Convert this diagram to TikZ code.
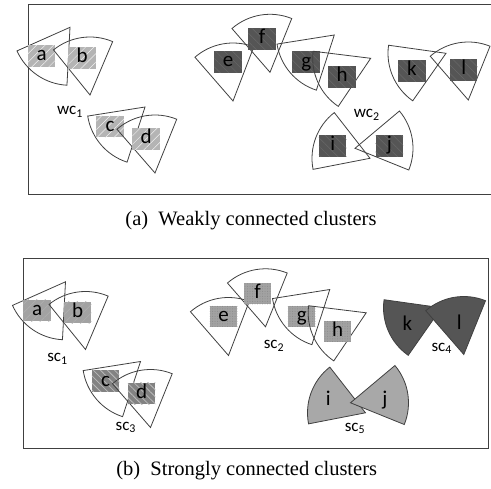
\documentclass[tikz,border=0pt]{standalone}
\usepackage{fontspec}
\setmainfont{Liberation Serif}
\newfontfamily\calfont{Carlito}
\usetikzlibrary{patterns.meta}
\definecolor{edge}{HTML}{404040}
\definecolor{paleg}{HTML}{B4B4B4}
\definecolor{midg}{HTML}{A2A2A2}
\definecolor{stripeg}{HTML}{828282}
\definecolor{darkg}{HTML}{555555}
\definecolor{fang}{HTML}{A8A8A8}

\begin{document}
\begin{tikzpicture}[x=1pt,y=1pt,
  frame/.style={draw=edge, line width=0.9pt},
  sector/.style={draw=edge, line width=0.8pt},
  open/.style={},
  fanlight/.style={fill=fang},
  fandark/.style={fill=darkg},
  lbl/.style={minimum width=27.5pt, minimum height=21.5pt, inner sep=0pt,
    text height=14pt, text depth=4pt, font=\calfont\fontsize{21}{21}\selectfont},
  bare/.style={lbl},
  wlight/.style={lbl, fill=paleg, postaction={pattern={Lines[angle=45,distance=6pt,line width=0.5pt]}, pattern color=white!80!paleg}},
  wdark/.style={lbl, fill=darkg, postaction={pattern={Lines[angle=-45,distance=6pt,line width=0.5pt]}, pattern color=white!12!darkg}},
  sone/.style={lbl, fill=midg, postaction={pattern={Lines[angle=45,distance=6pt,line width=0.5pt]}, pattern color=white!15!midg}},
  sthree/.style={lbl, fill=stripeg, postaction={pattern={Lines[angle=-45,distance=5pt,line width=0.8pt]}, pattern color=white!45!stripeg}},
  stwo/.style={lbl, fill=midg, postaction={pattern={Dots[distance=2.5pt,radius=0.5pt]}, pattern color=black!15!midg}},
  clabel/.style={font=\calfont\fontsize{17}{17}\selectfont, inner sep=0pt},
  caption/.style={font=\fontsize{20.5}{21}\selectfont, inner sep=0pt}]
\useasboundingbox (0,0) rectangle (491,-489);

\draw[frame] (28,-4) rectangle (494,-194);
\foreach \n/\ax/\ay/\s/\e/\bx/\by/\bs in {
    a/70/27.3/204/267/41.7/55.8/wlight, b/90/95/67/129/82.2/57.8/wlight,
    c/145/107/189/252/110/126.7/wlight, d/155/173/68/131/146.2/138.8/wlight,
    e/233/101/69/131/228/62/wdark, f/270/72.3/68/131/262.2/38.8/wdark,
    g/334.3/35/189/252/306.2/62.2/wdark, h/370.7/58.3/173/236/342.2/76.8/wdark,
    i/370/158.3/128/191/332.7/145.8/wdark, j/355/148.3/-22/40/389.3/145.8/wdark,
    k/446/53.3/172/235/412/70.8/wdark, l/468.3/100/68/131/463.7/70/wdark}{
  \draw[sector] (\ax,-\ay) -- ++(\s:58pt) arc[start angle=\s, end angle=\e, radius=58pt] -- cycle;
  \node[\bs] (w\n) at (\bx,-\by) {\n};
}
\node[clabel] (wc1) at (70,-111.7) {wc\textsubscript{1}};
\node[clabel] (wc2) at (366.7,-115) {wc\textsubscript{2}};
\node[caption] (capa) at (251,-221) {(a)\hspace{0.5em}Weakly connected clusters};

\draw[frame] (23,-258) rectangle (488.5,-448);
\begin{scope}[shift={(-4.5,-254.5)}]
\foreach \n/\ax/\ay/\s/\e/\bx/\by/\ss/\bs in {
    a/70/27.3/204/267/41.7/55.8/open/sone, b/90/95/67/129/82.2/57.8/open/sone,
    c/145/107/189/252/110/126.7/open/sthree, d/155/173/68/131/146.2/138.8/open/sthree,
    e/233/101/69/131/228/62/open/stwo, f/270/72.3/68/131/262.2/38.8/open/stwo,
    g/334.3/35/189/252/306.2/62.2/open/stwo, h/370.7/58.3/173/236/342.2/76.8/open/stwo,
    i/370/158.3/128/191/332.7/145.8/fanlight/bare, j/355/148.3/-22/40/389.3/145.8/fanlight/bare,
    k/446/53.3/172/235/412/70.8/fandark/bare, l/468.3/100/68/131/463.7/70/fandark/bare}{
  \draw[sector,\ss] (\ax,-\ay) -- ++(\s:58pt) arc[start angle=\s, end angle=\e, radius=58pt] -- cycle;
  \node[\bs] (s\n) at (\bx,-\by) {\n};
}
\end{scope}
\node[clabel] (sc1) at (57.5,-359) {sc\textsubscript{1}};
\node[clabel] (sc2) at (274,-345.8) {sc\textsubscript{2}};
\node[clabel] (sc3) at (125.8,-427.5) {sc\textsubscript{3}};
\node[clabel] (sc4) at (441.7,-348.3) {sc\textsubscript{4}};
\node[clabel] (sc5) at (355,-428.3) {sc\textsubscript{5}};
\node[caption] (capb) at (246.7,-471) {(b)\hspace{0.5em}Strongly connected clusters};
\end{tikzpicture}
\end{document}
